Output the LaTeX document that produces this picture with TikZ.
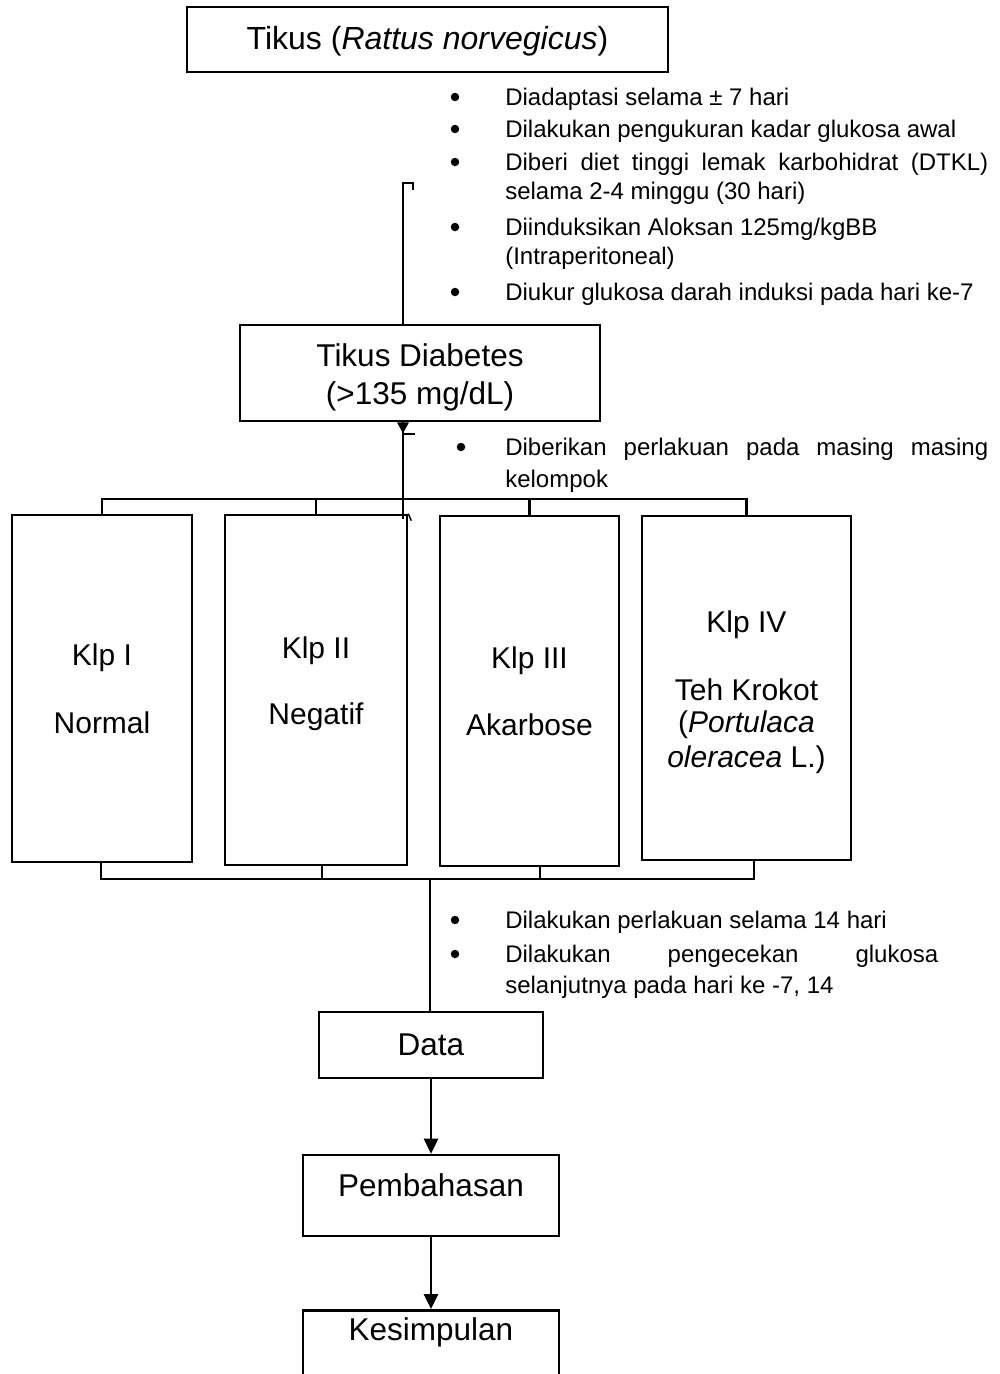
\documentclass[tikz,border=0pt]{standalone}
\usepackage{fontspec}
\setmainfont{Liberation Sans}
\usetikzlibrary{arrows.meta}
\newcommand\bxf{\fontsize{30}{36}\selectfont}
\newcommand\bxg{\fontsize{31.5}{37}\selectfont}
\newcommand\lsf{\fontsize{24}{29}\selectfont}
\begin{document}
\begin{tikzpicture}[x=1pt,y=-1pt,line width=2.6pt,
  box/.style={draw,inner sep=0pt,align=center,font=\bxg},
  kbox/.style={draw,inner sep=0pt,align=center,font=\bxf},
  ln/.style={anchor=base west,inner sep=0pt,font=\lsf},
  dot/.style={circle,fill,inner sep=0pt,minimum size=8.5pt},
  arr/.style={-{Triangle[width=14pt,length=15pt]}}]
\useasboundingbox (0,0) rectangle (1000,1374);
% boxes
\node[box,minimum width=481pt,minimum height=65pt,font=\fontsize{32}{38}\selectfont] (top) at (427.5,39.5) {\rule{0pt}{27pt}Tikus (\textit{Rattus norvegicus})};
\node[box,minimum width=360pt,minimum height=96pt] (diab) at (420,373) {\rule{0pt}{31pt}Tikus Diabetes\\[1pt](>135 mg/dL)};
\node[kbox,minimum width=180pt,minimum height=347pt] (k1) at (102,688.5) {Klp I\\[32pt]Normal};
\node[kbox,minimum width=182pt,minimum height=350pt] (k2) at (316,690) {Klp II\\[30pt]Negatif\rule[-19pt]{0pt}{1pt}};
\node[kbox,minimum width=179pt,minimum height=350pt] (k3) at (529.5,691) {Klp III\\[31pt]Akarbose};
\node[kbox,minimum width=209pt,minimum height=344pt] (k4) at (746.5,688) {\rule{0pt}{30pt}Klp IV\\[32pt]Teh Krokot\\[-4pt](\textit{Portulaca}\\[-1pt]\textit{oleracea} L.)};
\node[box,minimum width=224pt,minimum height=66pt] (data) at (431,1045) {Data};
\node[box,minimum width=256pt,minimum height=81pt] (pemb) at (431,1195.5) {Pembahasan\rule[-21pt]{0pt}{1pt}};
\node[draw,inner sep=0pt,minimum width=256pt,minimum height=110pt,anchor=north] (kes) at (431,1309) {};
\node[font=\bxg,inner sep=0pt] (kest) at (431,1332) {Kesimpulan};
% connectors top
\coordinate (hk) at (403,183);
\draw (diab.north -| hk) -- (hk) -- ++(10,0) -- ++(0,7);
\coordinate (tr) at (403,421);
\fill (diab.south -| tr) ++(-6,0) -- ++(12,0) -- ++(-6,11) -- cycle;
\coordinate (tk) at (403,434);
\draw[line width=2pt] (tk) -- ++(12,0);
\coordinate (mv) at (403,519);
\draw (diab.south -| tr) -- (mv);
\draw[line width=1.5pt] (k2.north east) -- ++(3,7);
% distribution bar
\coordinate (bl) at (102,499);
\draw (k1.north) -- (k1.north |- bl) -- (k4.north |- bl) -- (k4.north);
\draw (k2.north) -- (k2.north |- bl);
\draw (k3.north) -- (k3.north |- bl);
% collection bar
\coordinate (c1) at (101,879);
\coordinate (c2) at (322,879);
\coordinate (c3) at (540,879);
\coordinate (c4) at (754,879);
\draw (c1 |- k1.south) -- (c1) -- (c4) -- (c4 |- k4.south);
\draw (c2) -- (c2 |- k2.south);
\draw (c3) -- (c3 |- k3.south);
\coordinate (m) at (430,879);
\draw (m) -- (m |- data.north);
\draw[arr] (data.south) -- (pemb.north);
\draw[arr] (pemb.south) -- (kes.north);
% list 1
\node[dot] (b1) at (455,97) {};
\node[ln] (l1) at (504,105) {Diadaptasi selama ± 7 hari};
\node[dot] (b2) at (455,129) {};
\node[ln] (l2) at (504,137) {Dilakukan pengukuran kadar glukosa awal};
\node[dot] (b3) at (455,162) {};
\node[ln] (l3) at (504,170) {\makebox[483pt][s]{Diberi diet tinggi lemak karbohidrat (DTKL)}};
\node[ln] (l4) at (504,199) {selama 2-4 minggu (30 hari)};
\node[dot] (b4) at (455,227) {};
\node[ln] (l5) at (504,235) {Diinduksikan Aloksan 125mg/kgBB};
\node[ln] (l6) at (504,264) {(Intraperitoneal)};
\node[dot] (b5) at (455,292) {};
\node[ln] (l7) at (504,300) {Diukur glukosa darah induksi pada hari ke-7};
% list 2
\node[dot] (b6) at (461,447) {};
\node[ln] (l8) at (504,455) {\makebox[483pt][s]{Diberikan perlakuan pada masing masing}};
\node[ln] (l9) at (504,487) {kelompok};
% list 3
\node[dot] (b7) at (455,920) {};
\node[ln] (l10) at (504,928) {Dilakukan perlakuan selama 14 hari};
\node[dot] (b8) at (455,954) {};
\node[ln] (l11) at (504,962) {\makebox[433pt][s]{Dilakukan pengecekan glukosa}};
\node[ln] (l12) at (504,993) {selanjutnya pada hari ke -7, 14};
\end{tikzpicture}
\end{document}
